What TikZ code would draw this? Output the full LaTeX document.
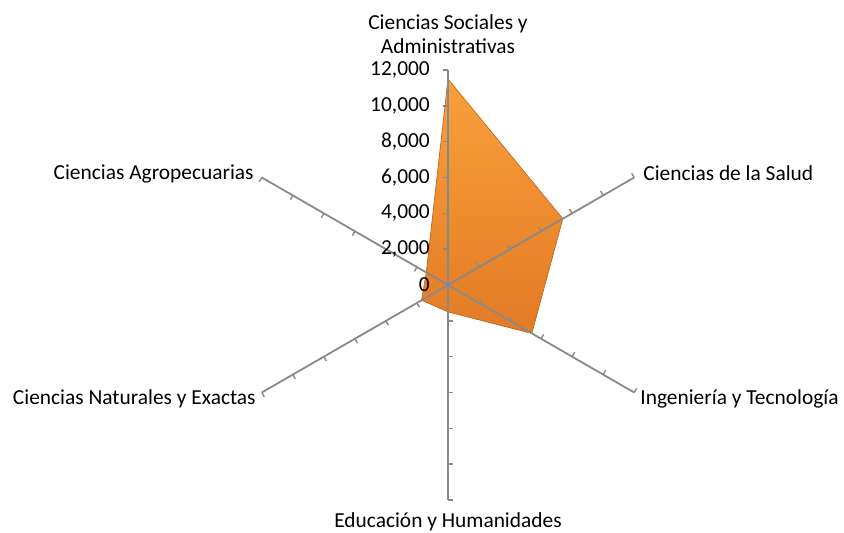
\documentclass[tikz,border=0pt]{standalone}
\usepackage{fontspec}
\setmainfont{Carlito}
\definecolor{axisgray}{RGB}{137,137,137}
\definecolor{fillhi}{RGB}{250,160,60}
\definecolor{filllo}{RGB}{226,122,36}
\definecolor{filledge}{RGB}{190,98,26}
\begin{document}
\begin{tikzpicture}[x=1pt,y=1pt]
  \tikzstyle{every node}=[font=\fontsize{21.4}{24}\selectfont,inner sep=0pt]
  \tikzstyle{axis}=[draw=axisgray,line width=1.8pt]
  \tikzstyle{tick}=[draw=axisgray,line width=1.4pt]
  \tikzstyle{area}=[top color=fillhi,bottom color=filllo,draw=filledge,line width=0.6pt,line join=round]
  \tikzstyle{shade}=[fill=black,opacity=0.07,line join=round]
  \useasboundingbox (-448,-248) rectangle (396,285);
  \coordinate (o) at (0,0);
  % axis ends, 12,000 = 215
  \foreach \a/\n in {90/1,30/2,-30/3,-90/4,-150/5,150/6}
    \coordinate (a\n) at (\a:215);
  % data points
  \coordinate (v1) at (90:206);
  \coordinate (v2) at (30:132.6);
  \coordinate (v3) at (-30:96.8);
  \coordinate (v4) at (-90:26.9);
  \coordinate (v5) at (-150:30.5);
  \coordinate (v6) at (150:25.1);
  % soft shadow
  \foreach \s in {1,...,5}
    \path[shade,xshift=0.6*\s,yshift=-1.2*\s]
      (v1) -- (v2) -- (v3) -- (v4) -- (v5) -- (v6) -- cycle;
  \path[area] (v1) -- (v2) -- (v3) -- (v4) -- (v5) -- (v6) -- cycle;
  % axes and ticks
  \foreach \a/\n in {90/1,30/2,-30/3,-90/4,-150/5,150/6}
   {\draw[axis] (o) -- (a\n);
    \foreach \k in {1,...,6}
      \draw[tick] (\a:\k*35.833) -- ++(\a+90:5);
   }
  % value labels
  \foreach \k/\t in {0/0,1/{2,000},2/{4,000},3/{6,000},4/{8,000},5/{10,000},6/{12,000}}
    \node[anchor=east] (val\k) at (-18,\k*35.833) {\t};
  % category labels
  \node[anchor=south,align=center] (sociales) at ([yshift=16]a1) {Ciencias Sociales y\\Administrativas};
  \node[anchor=west] (salud) at ([xshift=9,yshift=4]a2) {Ciencias de la Salud};
  \node[anchor=west] (ingenieria) at ([xshift=6,yshift=-6]a3) {Ingeniería y Tecnología};
  \node[anchor=north] (educacion) at ([yshift=-12]a4) {Educación y Humanidades};
  \node[anchor=east] (naturales) at ([xshift=-6,yshift=-6]a5) {Ciencias Naturales y Exactas};
  \node[anchor=east] (agro) at ([xshift=-8,yshift=4]a6) {Ciencias Agropecuarias};
\end{tikzpicture}
\end{document}
